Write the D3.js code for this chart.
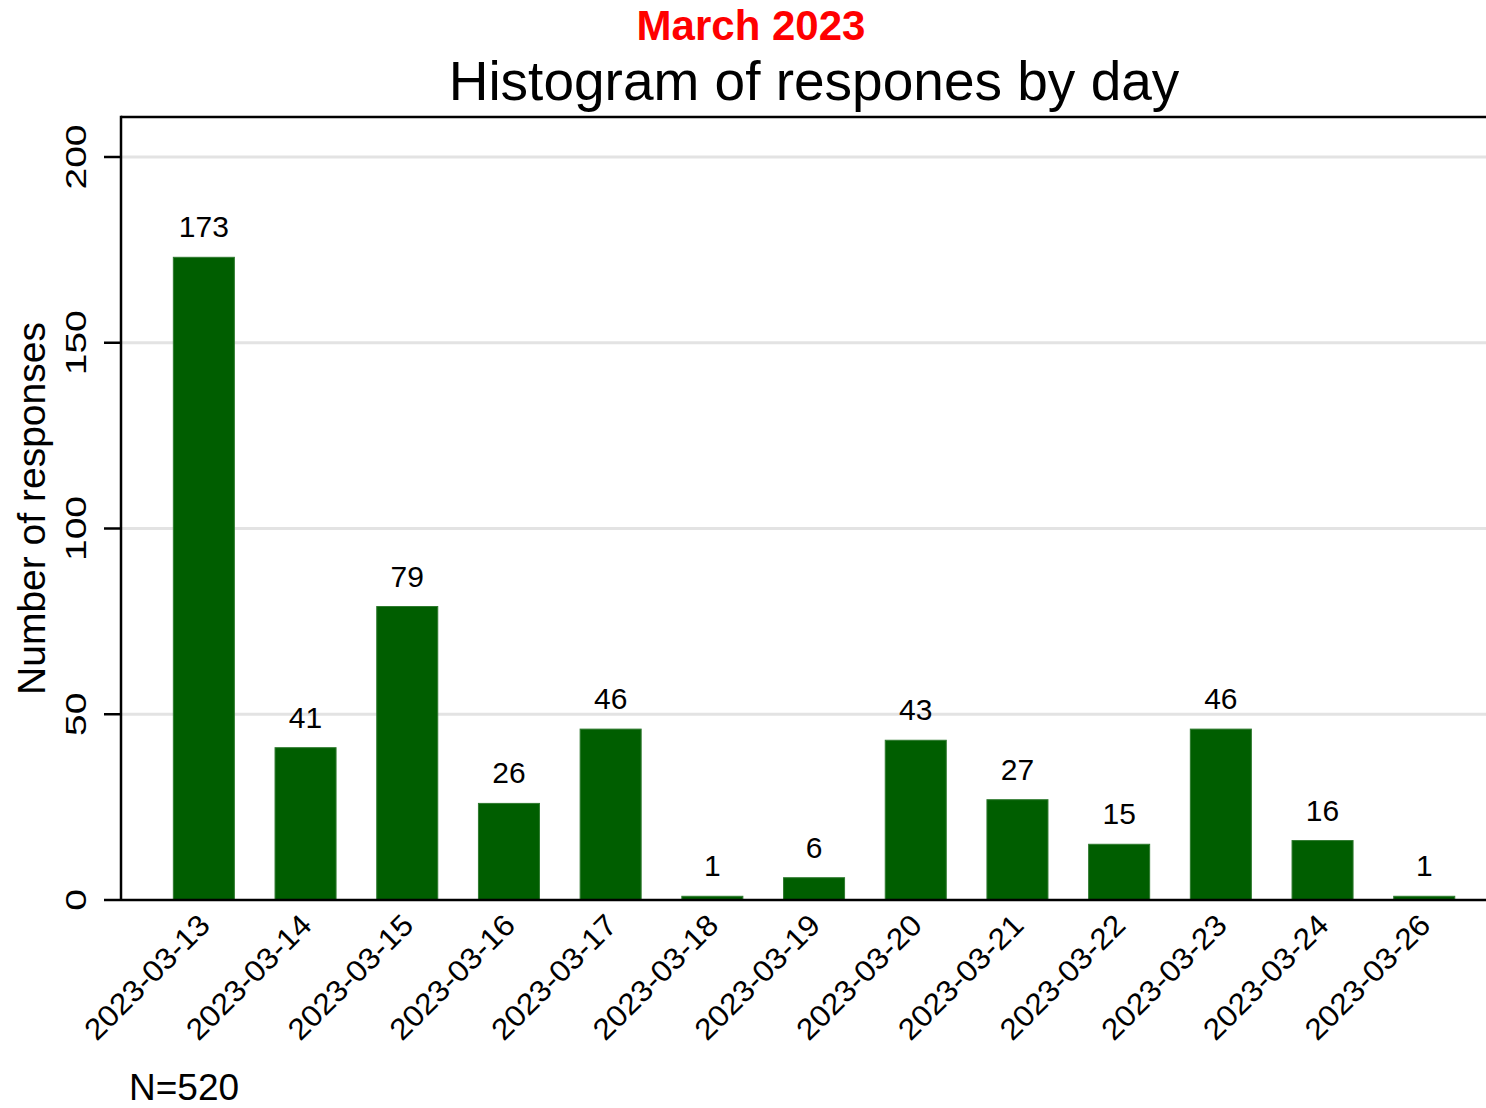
<!DOCTYPE html>
<html>
<head>
<meta charset="utf-8">
<script src="https://cdn.jsdelivr.net/npm/d3@7"></script>
<style>
  body { margin: 0; background: #fff; }
  text { font-family: Arial, "Liberation Sans", sans-serif; }
</style>
</head>
<body>
<div id="chart"></div>
<script>
// data
const days = ["2023-03-13", "2023-03-14", "2023-03-15", "2023-03-16", "2023-03-17", "2023-03-18", "2023-03-19",
              "2023-03-20", "2023-03-21", "2023-03-22", "2023-03-23", "2023-03-24", "2023-03-26"];
const counts = [173, 41, 79, 26, 46, 1, 6, 43, 27, 15, 46, 16, 1];
const yTicks = [0, 50, 100, 150, 200];

const WIDTH = 1486, HEIGHT = 1108;
const plotLeft = 121, plotRight = 1486, plotTop = 117, plotBottom = 900;

const svg = d3.select("#chart").append("svg")
    .attr("width", WIDTH)
    .attr("height", HEIGHT);

// scales
const x = d3.scaleBand()
    .domain(days)
    .range([153, 153 + 13 * 101.7])
    .paddingInner(0.4)
    .paddingOuter(0.2);

const y = d3.scaleLinear()
    .domain([0, 200])
    .range([plotBottom, 157]);

// gridlines
svg.append("g")
  .selectAll("line")
  .data(yTicks.filter(d => d > 0))
  .enter().append("line")
    .attr("x1", plotLeft).attr("x2", plotRight)
    .attr("y1", d => y(d)).attr("y2", d => y(d))
    .attr("stroke", "#e3e3e3")
    .attr("stroke-width", 3);

// bars
svg.append("g")
  .selectAll("rect")
  .data(counts)
  .enter().append("rect")
    .attr("x", (d, i) => x(days[i]))
    .attr("width", x.bandwidth())
    .attr("y", d => y(d))
    .attr("height", d => y(0) - y(d))
    .attr("fill", "#005e00")
    .attr("stroke", "#2f7a2f")
    .attr("stroke-width", 1);

// value labels over bars
svg.append("g")
  .selectAll("text")
  .data(counts)
  .enter().append("text")
    .attr("x", (d, i) => x(days[i]) + x.bandwidth() / 2)
    .attr("y", d => y(d) - 20)
    .attr("text-anchor", "middle")
    .attr("font-size", "30px")
    .attr("fill", "#000")
    .text(d => d);

// frame: top line, y axis, x axis
svg.append("line")
    .attr("x1", plotLeft).attr("x2", plotRight).attr("y1", plotTop).attr("y2", plotTop)
    .attr("stroke", "#000").attr("stroke-width", 2.5);
svg.append("line")
    .attr("x1", plotLeft).attr("x2", plotLeft).attr("y1", plotTop - 1.25).attr("y2", plotBottom)
    .attr("stroke", "#000").attr("stroke-width", 2.5);
svg.append("line")
    .attr("x1", plotLeft).attr("x2", plotRight).attr("y1", plotBottom).attr("y2", plotBottom)
    .attr("stroke", "#000").attr("stroke-width", 2.5);

// y ticks + labels
const yAxis = svg.append("g");
yAxis.selectAll("line")
  .data(yTicks)
  .enter().append("line")
    .attr("x1", 104).attr("x2", plotLeft)
    .attr("y1", d => y(d)).attr("y2", d => y(d))
    .attr("stroke", "#000").attr("stroke-width", 2.5);
yAxis.selectAll("text")
  .data(yTicks)
  .enter().append("text")
    .attr("transform", d => `translate(86, ${y(d)}) rotate(-90) scale(1.3, 1)`)
    .attr("text-anchor", "middle")
    .attr("font-size", "30px")
    .text(d => d);

// y axis title
svg.append("text")
    .attr("transform", `translate(45, ${(320 + 697) / 2}) rotate(-90)`)
    .attr("text-anchor", "middle")
    .attr("font-size", "39px")
    .text("Number of responses");

// x tick labels, rotated 45 degrees
svg.append("g")
  .selectAll("text")
  .data(days)
  .enter().append("text")
    .attr("transform", d => `translate(${x(d) + x.bandwidth() / 2 + 8}, ${plotBottom + 27}) rotate(-45) scale(1.06, 1)`)
    .attr("text-anchor", "end")
    .attr("font-size", "30px")
    .text(d => d);

// titles
svg.append("text")
    .attr("x", 751).attr("y", 40)
    .attr("text-anchor", "middle")
    .attr("font-size", "42px")
    .attr("font-weight", "bold")
    .attr("fill", "#ff0000")
    .text("March 2023");

svg.append("text")
    .attr("x", 814).attr("y", 100)
    .attr("text-anchor", "middle")
    .attr("font-size", "55px")
    .text("Histogram of respones by day");

// note
svg.append("text")
    .attr("x", 129).attr("y", 1100)
    .attr("font-size", "37px")
    .text("N=520");
</script>
</body>
</html>
